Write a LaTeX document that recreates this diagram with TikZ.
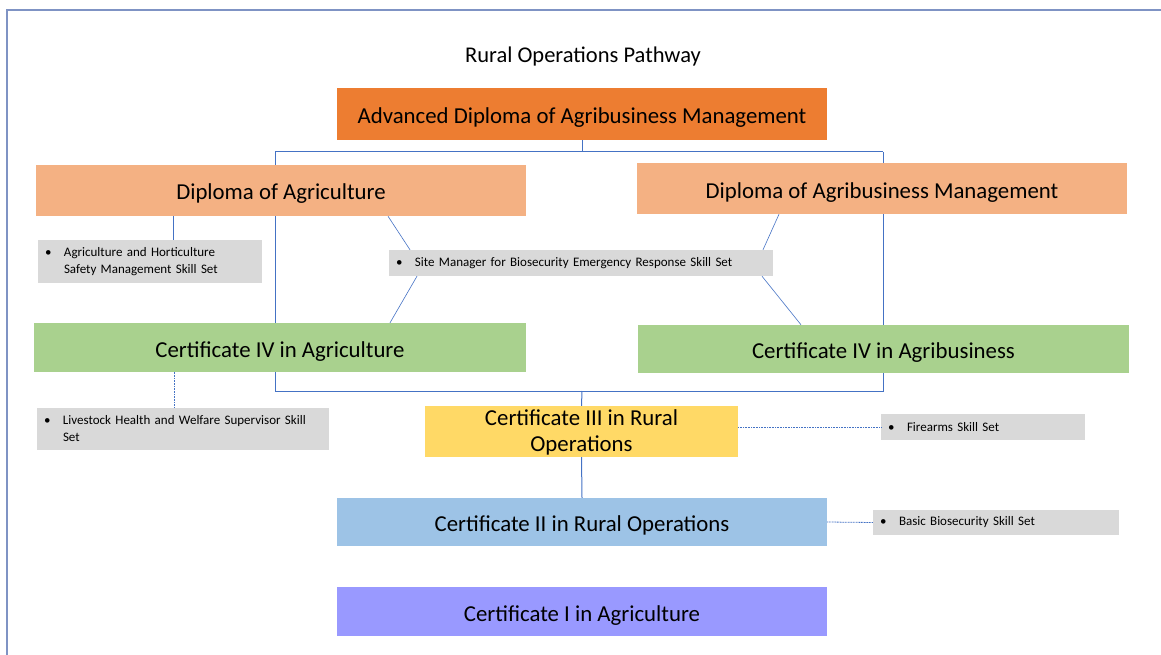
\documentclass[tikz,border=0pt]{standalone}
\usepackage{fontspec}
\setmainfont{Carlito}
\usetikzlibrary{backgrounds,calc}
\definecolor{cAdv}{HTML}{ED7D31}
\definecolor{cDip}{HTML}{F4B183}
\definecolor{cFour}{HTML}{A9D18E}
\definecolor{cThree}{HTML}{FFD966}
\definecolor{cTwo}{HTML}{9DC3E6}
\definecolor{cOne}{HTML}{9999FF}
\definecolor{cSkill}{HTML}{D9D9D9}
\definecolor{cLine}{HTML}{4472C4}
\definecolor{cFrame}{HTML}{7F93C4}
\tikzset{
  course/.style={rectangle, inner sep=0pt, align=center, font=\fontsize{22.8}{26}\selectfont, text height=22pt, text depth=3pt},
  skill/.style={rectangle, fill=cSkill, inner xsep=10pt, inner ysep=0pt, align=left, font=\fontsize{13}{17}\selectfont},
  tree/.style={draw=cLine, line width=1pt},
  thinl/.style={draw=cLine, line width=0.6pt},
  dotl/.style={draw=cLine, line width=0.8pt, dash pattern=on 1pt off 0.6pt},
}
\newcommand{\bul}{\hspace*{-3pt}\makebox[19pt][l]{\textbullet}}
\newcommand{\nobul}{\hspace*{16pt}}
\begin{document}
\begin{tikzpicture}[x=1pt,y=-1pt]
\useasboundingbox (0,0) rectangle (1161,655);
\draw[draw=cFrame, line width=1.3pt] (7,655) -- (7,10) -- (1161,10);
\node (title) at (583,57) {\fontsize{22.5}{26}\selectfont Rural Operations Pathway};
\node[course, fill=cAdv, minimum width=490pt, minimum height=52pt] (adv) at (582,114) {Advanced Diploma of Agribusiness Management};
\node[course, fill=cDip, minimum width=490pt, minimum height=51pt] (dagr) at (281,190.5) {Diploma of Agriculture};
\node[course, fill=cDip, minimum width=490pt, minimum height=51pt] (dbus) at (882,188.5) {Diploma of Agribusiness Management};
\node[skill, minimum width=224pt, minimum height=43pt, text width=204pt] (s1) at (150,261.5) {\bul Agriculture and Horticulture\\\nobul Safety Management Skill Set};
\node[skill, minimum width=384pt, minimum height=26pt, text width=364pt] (s2) at (581,263) {\bul Site Manager for Biosecurity Emergency Response Skill Set};
\node[course, fill=cFour, minimum width=492pt, minimum height=49pt] (c4agr) at (280,347.5) {Certificate IV in Agriculture};
\node[course, fill=cFour, minimum width=491pt, minimum height=48pt] (c4bus) at (883.5,349) {Certificate IV in Agribusiness};
\node[skill, minimum width=292pt, minimum height=42pt, text width=272pt] (s3) at (183,429) {\bul Livestock Health and Welfare Supervisor Skill\\\nobul Set};
\node[course, fill=cThree, minimum width=313pt, minimum height=51pt, text height=45pt, text depth=6pt] (c3) at (581.5,431.5) {Certificate III in Rural\\Operations};
\node[skill, minimum width=204pt, minimum height=26pt, text width=184pt] (s4) at (983,427) {\bul Firearms Skill Set};
\node[course, fill=cTwo, minimum width=490pt, minimum height=48pt] (c2) at (582,522) {Certificate II in Rural Operations};
\node[skill, minimum width=246pt, minimum height=25pt, text width=226pt] (s5) at (996,522.5) {\bul Basic Biosecurity Skill Set};
\node[course, fill=cOne, minimum width=490pt, minimum height=49pt] (c1) at (582,611.5) {Certificate I in Agriculture};
\begin{scope}[on background layer]
\coordinate (j1) at (582,152);
\coordinate (jl) at (275,152);
\coordinate (jr) at (883,152);
\coordinate (kl) at (275,391);
\coordinate (kr) at (883,391);
\coordinate (k) at (582,391);
\draw[tree] (adv.south) -- (j1);
\draw[tree] (jl) -- (jr);
\draw[tree] (jl) -- (kl) -- (kr) -- (jr);
\draw[tree] (k) -- (c3.north);
\draw[tree] (c3.south) -- (c2.north);
\end{scope}
\draw[tree] ([xshift=23pt]s1.north) -- ([xshift=23pt]s1.north |- dagr.south);
\draw[dotl] ([xshift=-9pt]s3.north) -- ([xshift=-9pt]s3.north |- c4agr.south);
\draw[thinl] ([xshift=107pt]dagr.south) -- ([xshift=-171pt]s2.north);
\draw[thinl] ([xshift=-164pt]s2.south) -- ([xshift=110pt]c4agr.north);
\draw[thinl] ([xshift=-103pt]dbus.south) -- ([xshift=182pt]s2.north);
\draw[thinl] ([xshift=181pt]s2.south) -- ([xshift=-82.5pt]c4bus.north);
\draw[dotl] (s4.west -| c3.east) -- (s4.west);
\draw[dotl] (c2.east) -- (s5.west);
\end{tikzpicture}
\end{document}
